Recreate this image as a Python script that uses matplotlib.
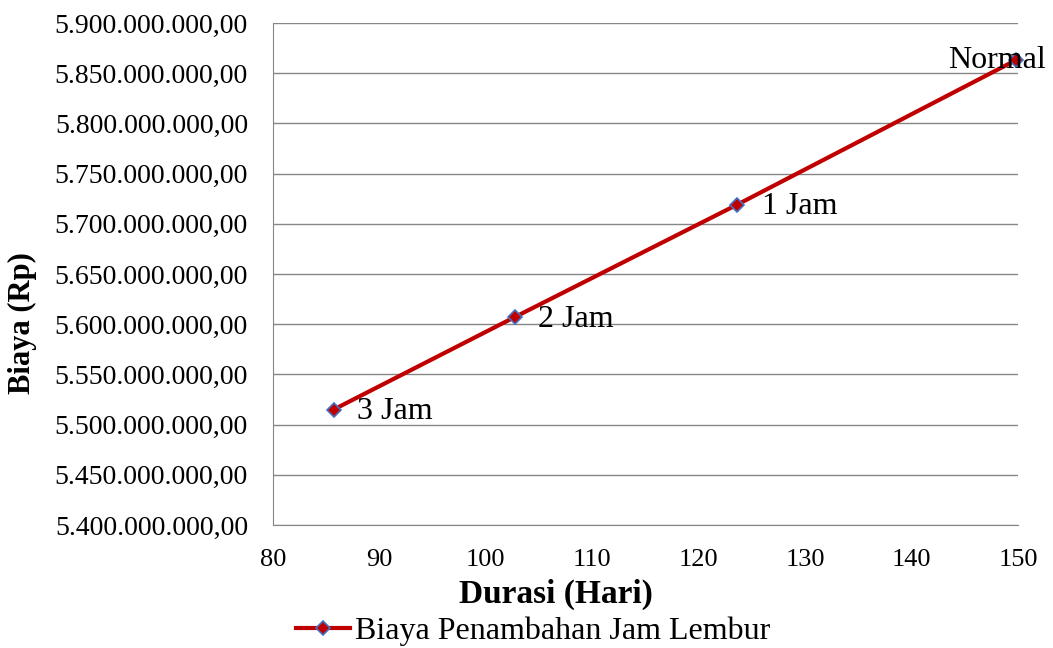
import matplotlib
matplotlib.use("Agg")
import matplotlib.pyplot as plt
from matplotlib.ticker import FuncFormatter

durasi = [85.7, 102.7, 123.6, 149.8]
biaya = [5515000000, 5607000000, 5719000000, 5863000000]
labels = ["3 Jam", "2 Jam", "1 Jam", "Normal"]
series_name = "Biaya Penambahan Jam Lembur"

plt.rcParams['font.family'] = ['Liberation Serif', 'DejaVu Serif']

W, H = 1053, 648
fig = plt.figure(figsize=(W / 100, H / 100), dpi=100)
ax = fig.add_axes([273 / W, 1 - 525 / H, (1018 - 273) / W, (525 - 23) / H])

ax.plot(durasi, biaya, color='#C00000', lw=3, marker='D', ms=7.5,
        mfc='#C00000', mec='#4472C4', mew=1.2, label=series_name, zorder=3,
        clip_on=False)

offsets = [(16.5, -1.5), (16.5, -1.5), (18, -1), (-49, 0)]
for x, y, t, off in zip(durasi, biaya, labels, offsets):
    ax.annotate(t, (x, y), xytext=off, textcoords='offset points',
                fontsize=23, va='center', ha='left', color='black')

ax.set_xlim(80, 150)
ax.set_ylim(5.4e9, 5.9e9)
ax.set_xticks(range(80, 151, 10))
ax.set_yticks([5.4e9 + i * 5e7 for i in range(11)])

def fmt(v, pos):
    s = f"{v:,.2f}"
    return s.replace(",", "X").replace(".", ",").replace("X", ".")
ax.yaxis.set_major_formatter(FuncFormatter(fmt))

ax.grid(axis='y', color='#868686', lw=1)
ax.set_axisbelow(True)
for s in ['top', 'right']:
    ax.spines[s].set_visible(False)
for s in ['left', 'bottom']:
    ax.spines[s].set_color('#868686')
ax.tick_params(axis='x', labelsize=19, colors='black', length=0, pad=17)
ax.tick_params(axis='y', labelsize=20, colors='black', length=0, pad=18)

fig.text(556 / W, 1 - 594 / H, "Durasi (Hari)", fontsize=24, fontweight='bold',
         ha='center', va='center')
fig.text(22 / W, 1 - 323 / H, "Biaya (Rp)", fontsize=22, fontweight='bold',
         ha='center', va='center', rotation=90)

fig.legend(loc='center left', bbox_to_anchor=(296 / W, 1 - 631 / H),
           bbox_transform=fig.transFigure, frameon=False, fontsize=23,
           handlelength=1.7, handletextpad=0.15, borderpad=0, borderaxespad=0)

fig.savefig("out.png", dpi=100)
